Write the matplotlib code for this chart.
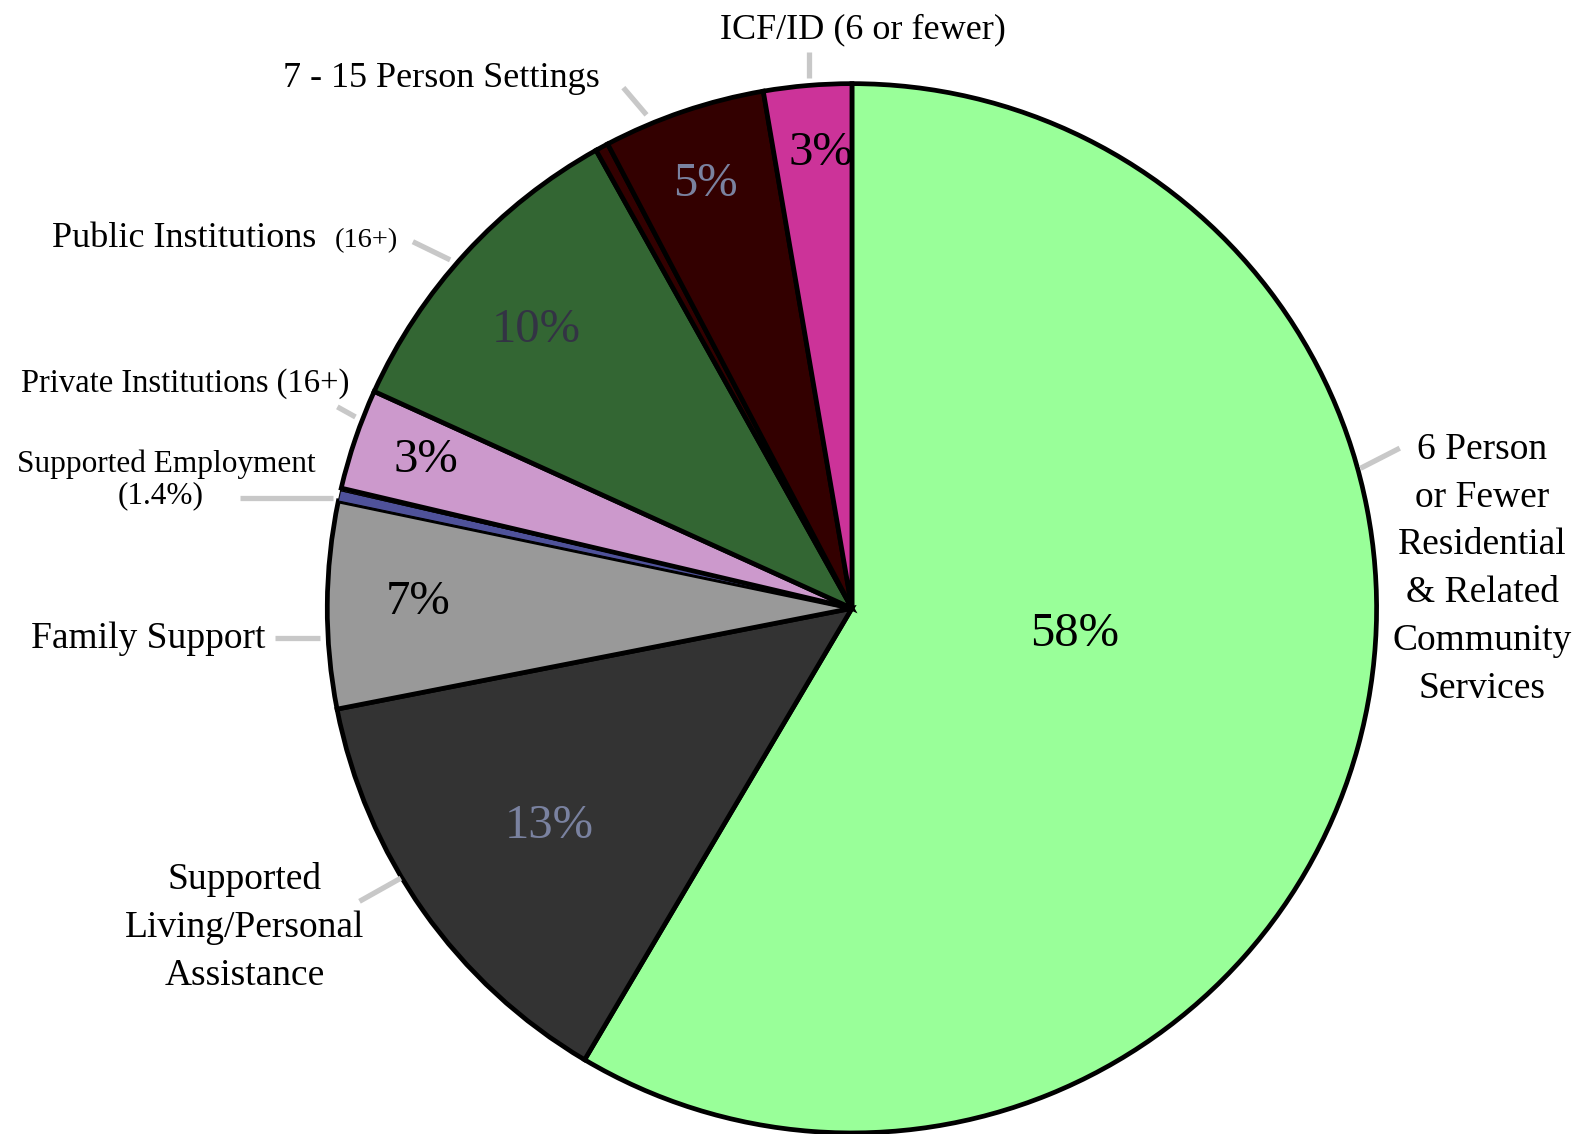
import matplotlib
matplotlib.use("Agg")
import matplotlib.pyplot as plt

# ---- data (slice sizes follow the drawn geometry) ----
segments = ["6 Person or Fewer", "Supported Living", "Family Support",
            "Supported Employment", "gap", "Private Institutions",
            "Public Institutions", "7-15 sliver", "7-15 Person Settings", "ICF/ID"]
values = [58.45, 13.4, 6.35, 0.32, 0.08, 3.1, 10.1, 0.4, 5.0, 2.7]
colors = ["#99ff99", "#333333", "#999999", "#4f529a", "#999999", "#cc99cc",
          "#336633", "#330000", "#330000", "#cc3399"]
pct_labels = ["58%", "13%", "7%", "", "", "3%", "10%", "", "5%", "3%"]
pct_colors = ["black", "#7a82a0", "black", "black", "black", "black",
              "#333344", "black", "#7a82a0", "black"]

W, H = 1568, 1126
def Y(y):
    return H - y

plt.rcParams['font.family'] = ['Liberation Serif', 'DejaVu Serif']

fig = plt.figure(figsize=(15.79, 11.34), dpi=100)
ax = fig.add_axes([0, 0, 1, 1])

cx, cy, R = 846, 604, 521
wedges, _ = ax.pie(values, colors=colors, startangle=90, counterclock=False,
                   center=(cx, Y(cy)), radius=R,
                   wedgeprops=dict(edgecolor="black", linewidth=3.4))
for i in (3, 4):
    wedges[i].set_linewidth(0.8)

ax.set_xlim(0, W)
ax.set_ylim(0, H)
ax.set_aspect("equal")
ax.axis("off")

# percent labels
pct_pos = [(1067, 630), (545, 820), (415, 598), None, None, (423, 457),
           (533, 328), None, (700, 183), (815, 152)]
for lab, pos, c in zip(pct_labels, pct_pos, pct_colors):
    if lab and pos:
        ax.text(pos[0], Y(pos[1]), lab, ha="center", va="center",
                fontsize=35, color=c)

# leader lines
lc = "#c8c8c8"
leaders = [((1351, 465), (1390, 445)), ((803, 52), (803, 77)),
           ((619, 87), (642, 114)), ((410, 240), (447, 258)),
           ((335, 404), (353, 414)), ((238, 494), (331, 494)),
           ((273, 634), (318, 634)), ((357, 895), (398, 872))]
for (x0, y0), (x1, y1) in leaders:
    ax.plot([x0, x1], [Y(y0), Y(y1)], color=lc, lw=3.8,
            solid_capstyle="butt")

# category labels
fs = 27
ax.text(857, Y(30), "ICF/ID (6 or fewer)", ha="center", va="center", fontsize=26)
ax.text(438, Y(78), "7 - 15 Person Settings", ha="center", va="center", fontsize=26)
ax.text(52, Y(237), "Public Institutions", ha="left", va="center", fontsize=26)
ax.text(395, Y(239), "(16+)", ha="right", va="center", fontsize=20.5)
ax.text(184, Y(381), "Private Institutions (16+)", ha="center", va="center", fontsize=23.5)
ax.text(165, Y(461), "Supported Employment", ha="center", va="center", fontsize=22.5)
ax.text(160, Y(492), "(1.4%)", ha="center", va="center", fontsize=22.5)
ax.text(147, Y(634), "Family Support", ha="center", va="center", fontsize=fs)
ax.text(243, Y(921), "Supported\nLiving/Personal\nAssistance", ha="center",
        va="center", fontsize=fs, linespacing=1.5)
ax.text(1472, Y(565), "6 Person\nor Fewer\nResidential\n& Related\nCommunity\nServices",
        ha="center", va="center", fontsize=fs, linespacing=1.5)

fig.savefig("out.png", dpi=100)
